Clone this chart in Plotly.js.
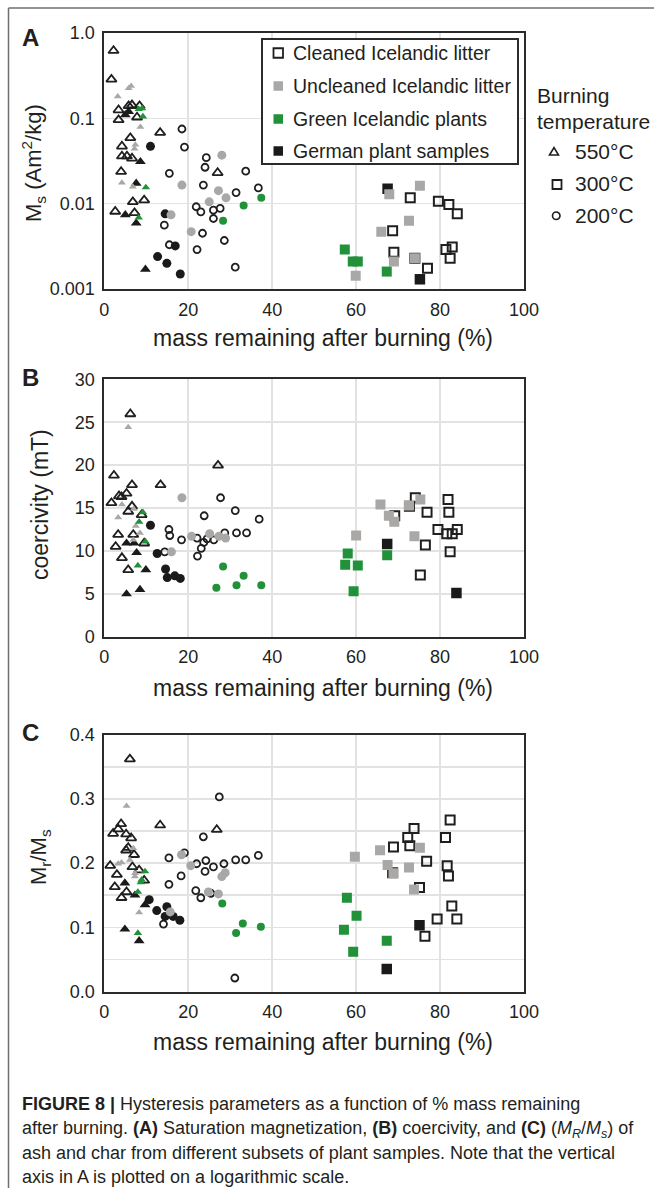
<!DOCTYPE html>
<html><head><meta charset="utf-8">
<script src="https://cdn.plot.ly/plotly-3.0.1.min.js"></script>
<style>html,body{margin:0;padding:0;background:#fff}#chart{width:654px;height:1188px}</style>
</head><body><div id="chart"></div>
<script>
// ===== Panel A: saturation magnetization Ms (Am2/kg) vs mass remaining (%) =====
const A_cleaned550_x = [2.2,1.7,3.4,3.4,5.8,6.6,8.4,7.8,6.2,4.2,4.2,5.4,6.6,4.0,13.3,27.0,9.5,6.8,2.6,7.2];
const A_cleaned550_y = [0.62,0.286,0.125,0.096,0.14,0.143,0.14,0.103,0.059,0.047,0.036,0.036,0.034,0.0237,0.068,0.023,0.011,0.0105,0.0081,0.0078];
const A_cleaned300_x = [72.9,79.6,82.1,84.1,68.7,69.0,74.0,77.0,81.4,82.9,82.4];
const A_cleaned300_y = [0.0117,0.0107,0.0098,0.0076,0.0048,0.0027,0.0023,0.00175,0.0029,0.0031,0.0023];
const A_cleaned200_x = [18.5,19.1,15.5,24.3,24.0,23.6,33.7,36.7,31.4,21.9,23.0,26.0,27.6,26.0,14.3,23.4,28.6,15.5,22.1,31.2];
const A_cleaned200_y = [0.075,0.046,0.0227,0.0346,0.0267,0.0165,0.024,0.0153,0.0135,0.0092,0.008,0.0084,0.0088,0.0067,0.0056,0.0045,0.0037,0.0033,0.0029,0.0018];
const A_uncleaned550_x = [3.2,5.8,6.4,8.6,7.4,7.2,4.2,6.8];
const A_uncleaned550_y = [0.18,0.225,0.24,0.079,0.049,0.044,0.0176,0.0158];
const A_uncleaned300_x = [75.2,67.9,72.6,66.0,69.0,74.0,59.9];
const A_uncleaned300_y = [0.0162,0.0129,0.0063,0.0047,0.0021,0.0023,0.00143];
const A_uncleaned200_x = [28.0,18.5,27.2,29.0,25.0,15.9,20.7];
const A_uncleaned200_y = [0.037,0.0165,0.0142,0.0117,0.0105,0.0074,0.0047];
const A_green550_x = [8.2,9.0,9.2,9.9,8.2];
const A_green550_y = [0.128,0.131,0.105,0.0155,0.00685];
const A_green300_x = [57.3,59.2,60.4,67.3];
const A_green300_y = [0.0029,0.0021,0.0021,0.0016];
const A_green200_x = [33.2,37.4,28.3];
const A_green200_y = [0.0095,0.0117,0.0063];
const A_german550_x = [5.0,5.8,8.6,7.6,5.0,7.6,9.8];
const A_german550_y = [0.11,0.12,0.031,0.0173,0.0074,0.0059,0.0017];
const A_german300_x = [67.5,75.2];
const A_german300_y = [0.015,0.0013];
const A_german200_x = [11.0,14.5,16.9,12.7,14.9,18.1];
const A_german200_y = [0.047,0.0076,0.0032,0.0024,0.002,0.0015];

// ===== Panel B: coercivity (mT) =====
const B_cleaned550_x = [6.2,27.1,2.3,6.6,13.4,5.3,3.5,4.1,1.7,6.6,5.7,8.9,3.3,6.9,2.7,4.2,5.7,9.5];
const B_cleaned550_y = [25.96,19.97,18.8,17.7,17.7,16.7,16.4,16.3,15.6,15.2,14.6,14.2,11.9,11.9,10.5,9.2,7.8,10.9];
const B_cleaned300_x = [74.1,72.7,81.9,76.9,82.1,69.2,79.5,81.6,82.9,84.1,76.5,82.4,75.3];
const B_cleaned300_y = [16.2,15.2,16.0,14.5,14.5,14.1,12.5,12.0,12.0,12.5,10.7,9.9,7.2];
const B_cleaned200_x = [27.7,23.8,31.2,36.9,15.4,15.6,18.4,14.4,22.1,24.5,23.7,23.1,22.2,26.1,28.7,31.5,33.9];
const B_cleaned200_y = [16.2,14.1,14.7,13.7,12.5,11.8,11.3,9.9,11.5,11.4,11.0,10.3,9.4,11.3,12.1,12.1,12.1];
const B_uncleaned550_x = [5.7,4.2,3.3,7.5,8.5,6.9,7.0];
const B_uncleaned550_y = [24.4,15.4,13.9,12.9,12.1,11.3,14.9];
const B_uncleaned300_x = [65.8,72.6,75.3,67.8,69.1,60.0,73.9];
const B_uncleaned300_y = [15.4,15.3,16.0,14.1,13.4,11.8,11.7];
const B_uncleaned200_x = [18.5,16.0,20.8,25.1,27.3,28.9];
const B_uncleaned200_y = [16.2,9.9,11.7,12.0,11.7,11.5];
const B_green550_x = [9.2,8.3,9.8,8.0];
const B_green550_y = [14.5,13.4,11.1,8.3];
const B_green300_x = [58.0,57.4,60.4,67.4,59.4];
const B_green300_y = [9.7,8.4,8.3,9.5,5.3];
const B_green200_x = [28.3,33.2,26.7,31.5,37.4];
const B_green200_y = [8.2,7.1,5.7,6.0,6.0];
const B_german550_x = [5.3,7.1,7.7,9.9,8.5,5.3];
const B_german550_y = [10.9,10.9,9.8,7.8,5.5,5.0];
const B_german300_x = [67.4,83.9];
const B_german300_y = [10.8,5.1];
const B_german200_x = [11.0,12.6,14.6,15.0,16.8,18.1];
const B_german200_y = [13.0,9.7,7.9,6.9,7.1,6.8];

// ===== Panel C: Mr/Ms =====
const C_cleaned550_x = [4.0,2.1,3.3,5.2,6.4,5.7,5.2,7.1,1.4,3.0,2.5,5.3,4.1,6.7,8.3,9.5,6.1,13.3,26.8];
const C_cleaned550_y = [0.261,0.246,0.253,0.245,0.239,0.224,0.220,0.213,0.196,0.182,0.163,0.155,0.146,0.194,0.189,0.173,0.362,0.259,0.252];
const C_cleaned300_x = [82.4,73.8,72.3,81.3,72.8,68.9,76.8,81.7,82.0,68.7,75.1,82.8,79.3,84.0,76.4];
const C_cleaned300_y = [0.267,0.254,0.240,0.240,0.227,0.225,0.203,0.196,0.180,0.185,0.162,0.133,0.113,0.113,0.086];
const C_cleaned200_x = [27.4,23.6,15.4,19.1,18.3,15.4,14.1,22.0,24.2,24.0,26.0,28.5,31.3,33.7,36.7,21.8,23.0,25.4,31.1];
const C_cleaned200_y = [0.303,0.241,0.208,0.216,0.180,0.167,0.105,0.199,0.204,0.187,0.194,0.199,0.205,0.205,0.212,0.157,0.146,0.153,0.021];
const C_uncleaned550_x = [5.3,3.3,4.1,6.9,6.1,7.3,8.3,7.3];
const C_uncleaned550_y = [0.289,0.199,0.201,0.223,0.205,0.184,0.123,0.179];
const C_uncleaned300_x = [59.7,65.7,75.2,67.5,68.9,72.6,73.8];
const C_uncleaned300_y = [0.210,0.220,0.224,0.197,0.184,0.193,0.159];
const C_uncleaned200_x = [18.4,20.6,28.0,28.8,24.8,27.2,15.7];
const C_uncleaned200_y = [0.213,0.196,0.179,0.185,0.155,0.152,0.124];
const C_green550_x = [9.7,8.9,8.7,8.0,8.0];
const C_green550_y = [0.187,0.174,0.170,0.155,0.091];
const C_green300_x = [57.8,60.1,57.1,59.3,67.3];
const C_green300_y = [0.146,0.118,0.096,0.062,0.079];
const C_green200_x = [28.1,33.0,31.4,37.3];
const C_green200_y = [0.137,0.106,0.091,0.101];
const C_german550_x = [4.9,7.3,9.7,4.9,8.3];
const C_german550_y = [0.169,0.150,0.135,0.097,0.079];
const C_german300_x = [75.1,67.3];
const C_german300_y = [0.103,0.035];
const C_german200_x = [10.7,12.5,14.9,14.5,16.4,18.0];
const C_german200_y = [0.143,0.126,0.132,0.117,0.117,0.111];

// ===== labels =====
const xTickVals = [0,20,40,60,80,100];
const xTickText = ['0','20','40','60','80','100'];
const aTickVals = [0.001,0.01,0.1,1];
const aTickText = ['0.001','0.01','0.1','1.0'];
const sampleLabels = ['Cleaned Icelandic litter','Uncleaned Icelandic litter','Green Icelandic plants','German plant samples'];
const tempLabels = ['550°C','300°C','200°C'];
const xTitle = 'mass remaining after burning (%)';
const yTitles = ['M<sub>s</sub> (Am<sup>2</sup>/kg)','coercivity (mT)','M<sub>r</sub>/M<sub>s</sub>'];
const panelLetters = ['A','B','C'];
const captionLines = [
  '<b>FIGURE 8 |</b> Hysteresis parameters as a function of % mass remaining',
  'after burning. <b>(A)</b> Saturation magnetization, <b>(B)</b> coercivity, and <b>(C)</b> (<i>M<sub>R</sub></i>/<i>M<sub>s</sub></i>) of',
  'ash and char from different subsets of plant samples. Note that the vertical',
  'axis in A is plotted on a logarithmic scale.'
];

// ===== styling =====
const W = 654, H = 1188;
const F = 'Liberation Sans, Arial, Helvetica, sans-serif';
const TXT = '#231f20';
const COL = {cleaned:'#1f1f1f', uncleaned:'#aaa8a6', green:'#21913a', german:'#1a1a1a'};
function PX(v){return v/W;}
function PY(v){return 1 - v/H;}

const STY = {
  cleaned550:{symbol:'triangle-up-open', size:9, color:COL.cleaned, lw:1.8},
  cleaned300:{symbol:'square-open', size:9, color:COL.cleaned, lw:2},
  cleaned200:{symbol:'circle-open', size:7, color:COL.cleaned, lw:1.8},
  german550:{symbol:'triangle-up', size:9.5, color:COL.german, lw:0},
  german300:{symbol:'square', size:10.5, color:COL.german, lw:0},
  german200:{symbol:'circle', size:9, color:COL.german, lw:0},
  uncleaned550:{symbol:'triangle-up', size:7, color:COL.uncleaned, lw:0},
  uncleaned300:{symbol:'square', size:10, color:COL.uncleaned, lw:0},
  uncleaned200:{symbol:'circle', size:9, color:COL.uncleaned, lw:0},
  green550:{symbol:'triangle-up', size:7.5, color:COL.green, lw:0},
  green300:{symbol:'square', size:10, color:COL.green, lw:0},
  green200:{symbol:'circle', size:8, color:COL.green, lw:0}
};
const DATA = {
  A:{cleaned550:[A_cleaned550_x,A_cleaned550_y],cleaned300:[A_cleaned300_x,A_cleaned300_y],cleaned200:[A_cleaned200_x,A_cleaned200_y],
     german550:[A_german550_x,A_german550_y],german300:[A_german300_x,A_german300_y],german200:[A_german200_x,A_german200_y],
     uncleaned550:[A_uncleaned550_x,A_uncleaned550_y],uncleaned300:[A_uncleaned300_x,A_uncleaned300_y],uncleaned200:[A_uncleaned200_x,A_uncleaned200_y],
     green550:[A_green550_x,A_green550_y],green300:[A_green300_x,A_green300_y],green200:[A_green200_x,A_green200_y]},
  B:{cleaned550:[B_cleaned550_x,B_cleaned550_y],cleaned300:[B_cleaned300_x,B_cleaned300_y],cleaned200:[B_cleaned200_x,B_cleaned200_y],
     german550:[B_german550_x,B_german550_y],german300:[B_german300_x,B_german300_y],german200:[B_german200_x,B_german200_y],
     uncleaned550:[B_uncleaned550_x,B_uncleaned550_y],uncleaned300:[B_uncleaned300_x,B_uncleaned300_y],uncleaned200:[B_uncleaned200_x,B_uncleaned200_y],
     green550:[B_green550_x,B_green550_y],green300:[B_green300_x,B_green300_y],green200:[B_green200_x,B_green200_y]},
  C:{cleaned550:[C_cleaned550_x,C_cleaned550_y],cleaned300:[C_cleaned300_x,C_cleaned300_y],cleaned200:[C_cleaned200_x,C_cleaned200_y],
     german550:[C_german550_x,C_german550_y],german300:[C_german300_x,C_german300_y],german200:[C_german200_x,C_german200_y],
     uncleaned550:[C_uncleaned550_x,C_uncleaned550_y],uncleaned300:[C_uncleaned300_x,C_uncleaned300_y],uncleaned200:[C_uncleaned200_x,C_uncleaned200_y],
     green550:[C_green550_x,C_green550_y],green300:[C_green300_x,C_green300_y],green200:[C_green200_x,C_green200_y]}
};
const order = ['cleaned550','cleaned300','cleaned200','german550','german300','german200','uncleaned550','uncleaned300','uncleaned200','green550','green300','green200'];
const axSuffix = {A:'',B:'2',C:'3'};

const traces = [];
['A','B','C'].forEach(p => {
  order.forEach(k => {
    const s = STY[k], d = DATA[p][k];
    traces.push({
      type:'scatter', mode:'markers', x:d[0], y:d[1], name:k, showlegend:false,
      xaxis:'x'+axSuffix[p], yaxis:'y'+axSuffix[p], hoverinfo:'x+y',
      marker:{symbol:s.symbol, size:s.size, color:s.color, line:{width:s.lw, color:s.color}}
    });
  });
});

// panel geometry in pixels (top, bottom)
const XL = 104.3, XR = 524;
const PAN = {A:[33,289], B:[379.3,636.8], C:[734.7,991.5]};
function xax(p){
  return {domain:[PX(XL),PX(XR)], anchor:'y'+axSuffix[p], range:[0,100], showline:true, mirror:true,
    linecolor:'#2b2b2b', linewidth:2, showgrid:true, gridcolor:'#e2e2e2', gridwidth:1.5, zeroline:false,
    tickmode:'array', tickvals:xTickVals, ticktext:xTickText, ticks:'', ticklabelstandoff:3,
    tickfont:{family:F,size:18,color:TXT}, fixedrange:true, automargin:false};
}
function ydom(p){return [PY(PAN[p][1]), PY(PAN[p][0])];}
const baseY = {showline:true, mirror:true, linecolor:'#2b2b2b', linewidth:2, showgrid:true, gridcolor:'#e2e2e2',
  gridwidth:1.5, zeroline:false, ticks:'', ticklabelstandoff:4, tickfont:{family:F,size:18,color:TXT}, fixedrange:true, automargin:false};

const layout = {
  width:W, height:H, margin:{l:0,r:0,t:0,b:0}, paper_bgcolor:'#fff', plot_bgcolor:'#fff', showlegend:false,
  xaxis: xax('A'), xaxis2: xax('B'), xaxis3: xax('C'),
  yaxis: Object.assign({}, baseY, {domain:ydom('A'), anchor:'x', type:'log', range:[-3,0], tickmode:'array', tickvals:aTickVals, ticktext:aTickText}),
  yaxis2: Object.assign({}, baseY, {domain:ydom('B'), anchor:'x2', range:[0,30], dtick:5, tick0:0}),
  yaxis3: Object.assign({}, baseY, {domain:ydom('C'), anchor:'x3', range:[0,0.4], dtick:0.1, tick0:0, tickformat:'.1f',
    minor:{dtick:0.05, showgrid:true, gridcolor:'#e2e2e2', gridwidth:1.5, ticks:''}}),
  annotations:[], shapes:[]
};

function ann(text, x, y, opts){
  layout.annotations.push(Object.assign({text:text, x:PX(x), y:PY(y), xref:'paper', yref:'paper', showarrow:false,
    xanchor:'center', yanchor:'middle', font:{family:F, size:18, color:TXT}}, opts||{}));
}
// panel letters
ann('<b>'+panelLetters[0]+'</b>', 30, 37, {font:{family:F,size:24,color:TXT}});
ann('<b>'+panelLetters[1]+'</b>', 30, 377, {font:{family:F,size:24,color:TXT}});
ann('<b>'+panelLetters[2]+'</b>', 30, 732, {font:{family:F,size:24,color:TXT}});
// axis titles
[['A',338],['B',688],['C',1042]].forEach(a => ann(xTitle, 323, a[1], {font:{family:F,size:23,color:TXT}}));
ann(yTitles[0], 33, 163, {textangle:-90, font:{family:F,size:22,color:TXT}});
ann(yTitles[1], 40, 505, {textangle:-90, font:{family:F,size:23,color:TXT}});
ann(yTitles[2], 40, 857, {textangle:-90, font:{family:F,size:22,color:TXT}});

// sample legend box
layout.shapes.push({type:'rect', xref:'paper', yref:'paper', x0:PX(262), x1:PX(518), y0:PY(164), y1:PY(39),
  line:{color:'#2b2b2b', width:2}, fillcolor:'#fff', layer:'above'});
const legRowY = [53, 86, 119, 151];
const legFill = ['#fff', COL.uncleaned, COL.green, COL.german];
sampleLabels.forEach((lab,i) => {
  const cy = legRowY[i];
  layout.shapes.push({type:'rect', xref:'paper', yref:'paper', x0:PX(273.5), x1:PX(283), y0:PY(cy+4.75), y1:PY(cy-4.75),
    line:{color: i===0 ? '#1f1f1f' : legFill[i], width: i===0 ? 1.8 : 0}, fillcolor:legFill[i], layer:'above'});
  ann(lab, 291, cy, {xanchor:'left', font:{family:F,size:19.5,color:TXT}});
});
// temperature legend
ann('Burning', 535, 96, {xanchor:'left', font:{family:F,size:21,color:TXT}});
ann('temperature', 535, 121, {xanchor:'left', font:{family:F,size:21,color:TXT}});
const tempRowY = [151, 184, 215];
tempLabels.forEach((lab,i) => ann(lab, 573, tempRowY[i], {xanchor:'left', font:{family:F,size:21,color:TXT}}));
layout.shapes.push({type:'path', xref:'paper', yref:'paper',
  path:'M '+PX(549.5)+' '+PY(155)+' L '+PX(558.5)+' '+PY(155)+' L '+PX(554)+' '+PY(147.5)+' Z', line:{color:'#1f1f1f',width:1.6}});
layout.shapes.push({type:'rect', xref:'paper', yref:'paper', x0:PX(552.5), x1:PX(561.5), y0:PY(189), y1:PY(180), line:{color:'#1f1f1f',width:1.8}});
layout.shapes.push({type:'circle', xref:'paper', yref:'paper', x0:PX(552.5), x1:PX(560), y0:PY(219.5), y1:PY(212), line:{color:'#1f1f1f',width:1.6}});

// frame lines
layout.shapes.push({type:'line', xref:'paper', yref:'paper', x0:PX(8.5), x1:PX(8.5), y0:0, y1:PY(8), line:{color:'#6f6f6f', width:1.5}});
layout.shapes.push({type:'line', xref:'paper', yref:'paper', x0:PX(8.5), x1:1, y0:PY(8), y1:PY(8), line:{color:'#6f6f6f', width:1.5}});

// caption
const capY = [1104, 1129, 1153, 1177];
captionLines.forEach((t,i) => ann(t, 20, capY[i], {xanchor:'left', font:{family:F,size:18,color:TXT}}));

Plotly.newPlot('chart', traces, layout, {staticPlot:true, displayModeBar:false});
</script></body></html>
